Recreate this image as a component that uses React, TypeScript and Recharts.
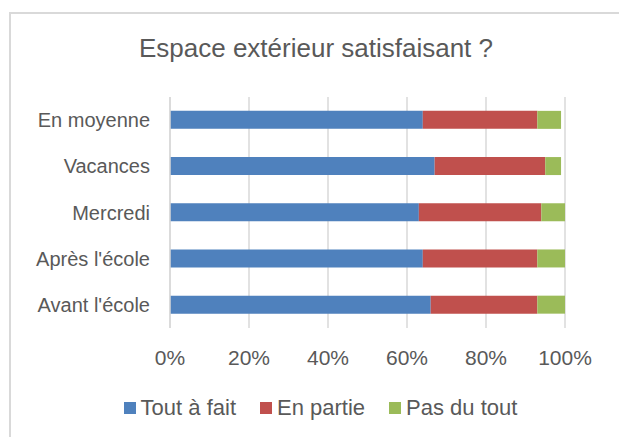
import React from "react";
import { BarChart, Bar, XAxis, YAxis, CartesianGrid, Legend } from "recharts";

const categories = ["En moyenne", "Vacances", "Mercredi", "Après l'école", "Avant l'école"];
const toutAFait = [64, 67, 63, 64, 66];
const enPartie = [29, 28, 31, 29, 27];
const pasDuTout = [6, 4, 6, 7, 7];
const xTicks = [0, 20, 40, 60, 80, 100];

const seriesNames = ["Tout à fait", "En partie", "Pas du tout"];
const seriesKeys = ["tout", "partie", "pas"];
const seriesColors = ["#4F81BD", "#C0504D", "#9BBB59"];

const data = categories.map((c, i) => ({
  cat: c,
  tout: toutAFait[i],
  partie: enPartie[i],
  pas: pasDuTout[i],
}));

const FONT = "'Liberation Sans', Arial, sans-serif";
const TEXT = "#595959";

const LegendContent = () => (
  <div style={{ display: "flex", justifyContent: "center", alignItems: "center", fontFamily: FONT, fontSize: 22, color: TEXT, paddingLeft: 76, paddingTop: 3 }}>
    {seriesNames.map((n, i) => (
      <div key={n} style={{ display: "flex", alignItems: "center", marginRight: i < 2 ? 24 : 0 }}>
        <span style={{ display: "inline-block", width: 12, height: 12, background: seriesColors[i], marginRight: 5 }} />
        <span>{n}</span>
      </div>
    ))}
  </div>
);

export default function App() {
  return (
    <div style={{ position: "absolute", left: 0, top: 0, width: 619, height: 437, overflow: "hidden", background: "#fff" }}>
      <div style={{ position: "absolute", left: 9, top: 12, width: 640, height: 500, border: "2px solid #d9d9d9", boxSizing: "border-box" }} />
      <div style={{ position: "absolute", left: 9, top: 36, width: 614, textAlign: "center", fontFamily: FONT, fontSize: 26, lineHeight: "25px", color: TEXT }}>
        Espace extérieur satisfaisant ?
      </div>
      <div style={{ position: "absolute", left: 0, top: 0 }}>
        <BarChart
          width={619}
          height={437}
          data={data}
          layout="vertical"
          margin={{ top: 97, right: 54, bottom: 15, left: 0 }}
          barCategoryGap="30%"
        >
          <CartesianGrid horizontal={false} stroke="#d9d9d9" strokeWidth={1.5} />
          <XAxis
            type="number"
            domain={[0, 100]}
            ticks={xTicks}
            tickFormatter={(v) => `${v}%`}
            axisLine={false}
            tickLine={false}
            tickSize={0}
            tickMargin={22}
            height={64}
            interval={0}
            tick={{ fill: TEXT, fontSize: 21, fontFamily: FONT }}
          />
          <YAxis
            type="category"
            dataKey="cat"
            width={170}
            axisLine={{ stroke: "#d9d9d9", strokeWidth: 1.5 }}
            tickLine={false}
            tickSize={0}
            tickMargin={20}
            interval={0}
            tick={{ fill: TEXT, fontSize: 20, fontFamily: FONT }}
          />
          <Legend verticalAlign="bottom" height={30} content={<LegendContent />} />
          {seriesKeys.map((k, i) => (
            <Bar key={k} dataKey={k} name={seriesNames[i]} stackId="a" fill={seriesColors[i]} isAnimationActive={false} />
          ))}
        </BarChart>
      </div>
    </div>
  );
}
